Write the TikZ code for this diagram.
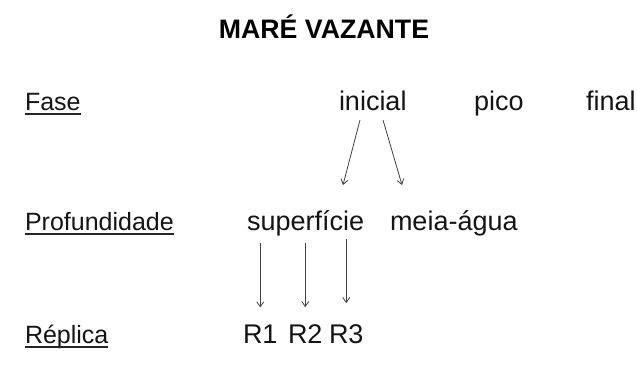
\documentclass[tikz,border=0pt]{standalone}
\usepackage{fontspec}
\setmainfont{Liberation Sans}
\usetikzlibrary{arrows.meta,calc}
\tikzset{
  txt/.style={inner sep=0pt, outer sep=0pt, anchor=base west, text=black!92,
              font=\fontsize{27}{32}\selectfont},
  rowlbl/.style={txt, font=\fontsize{25}{30}\selectfont},
  ttl/.style={inner sep=0pt, outer sep=0pt, anchor=base, text=black,
              font=\fontsize{26.7}{32}\selectfont\bfseries},
  uline/.style={draw=black!85, line width=1.6pt},
  arr/.style={draw=black!75, line width=0.8pt,
              -{Straight Barb[length=5pt,width=7pt,line width=0.8pt]}}
}
\begin{document}
\begin{tikzpicture}[x=1pt,y=-1pt]
  \useasboundingbox (0,0) rectangle (637,367);

  % title
  \node[ttl] (title) at (324,38) {MARÉ VAZANTE};

  % row labels, underlined
  \node[rowlbl] (fase) at (25,110) {Fase};
  \node[rowlbl] (prof) at (25,230) {Profundidade};
  \node[rowlbl] (repl) at (25,343) {Réplica};
  \foreach \n in {fase,prof,repl}
    \draw[uline] ($(\n.base west)+(0,4)$) -- ($(\n.base east)+(0,4)$);

  % phases
  \node[txt] (ini)  at (339,110) {inicial};
  \node[txt] (pico) at (474,110) {pico};
  \node[txt] (fin)  at (586,110) {final};

  % depths
  \node[txt] (sup)  at (247,230) {superfície};
  \node[txt] (meia) at (390,230) {meia-água};

  % replicates
  \node[txt] (r1) at (243,343) {R1};
  \node[txt] (r2) at (288,343) {R2};
  \node[txt] (r3) at (329,343) {R3};

  % phase -> depth
  \draw[arr] ($(ini.base west)+(21,10)$) -- ($(sup.base west)+(96,-45)$);
  \draw[arr] ($(ini.base west)+(44,10)$) -- ($(meia.base west)+(12,-45)$);

  % depth -> replicate
  \draw[arr] ($(r1.north |- sup.base)+(0,13)$) -- ($(r1.north)+(0,-17)$);
  \draw[arr] ($(r2.north |- sup.base)+(0,13)$) -- ($(r2.north)+(0,-17)$);
  \draw[arr] ($(r3.north |- sup.base)+(0,9)$)  -- ($(r3.north)+(0,-21)$);
\end{tikzpicture}
\end{document}
